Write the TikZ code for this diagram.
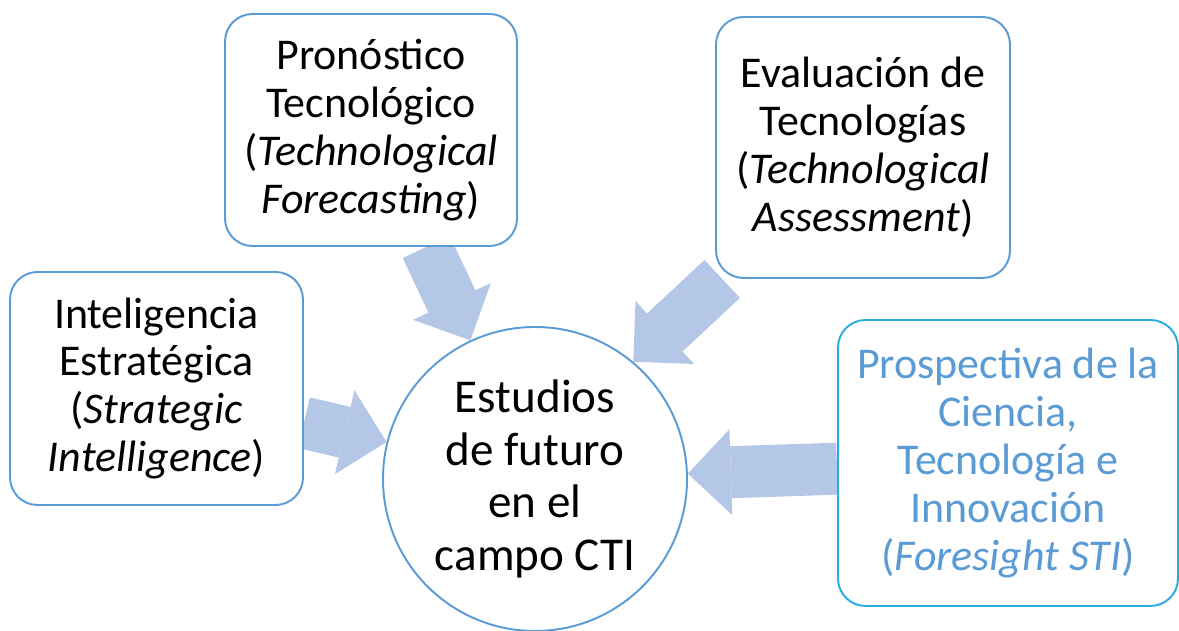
\documentclass[tikz,border=0pt]{standalone}
\usepackage{fontspec}
\setmainfont{Carlito}
\usetikzlibrary{arrows.meta,backgrounds}
\definecolor{azul}{HTML}{5B9BD5}
\definecolor{celeste}{HTML}{29ABE2}
\definecolor{flechaazul}{HTML}{B4C7E7}
\tikzset{
  caja/.style={draw=azul, line width=1.1pt, fill=white, rounded corners=0.55cm,
    align=center, inner sep=0pt, font=\fontsize{25}{27.3}\selectfont},
  circulo/.style={circle, draw=azul, line width=1.1pt, fill=white, inner sep=0pt,
    minimum size=6.08cm, align=center, font=\fontsize{26.8}{30}\selectfont},
  flecha/.style={draw=flechaazul, line width=1.04cm,
    -{Triangle[length=0.86cm,width=1.72cm,line width=0pt]}}
}

\begin{document}
\begin{tikzpicture}
\useasboundingbox (0,0) rectangle (23.58,12.62);
\node[circulo] (cti) at (10.70,3.04) {Estudios\\de futuro\\en el\\campo CTI};
\node[caja, minimum width=5.84cm, minimum height=4.64cm] (pron) at (7.42,10.02)
  {Pronóstico\\Tecnológico\\(\textit{Technological}\\\textit{Forecasting})};
\node[caja, minimum width=5.88cm, minimum height=5.22cm] (eval) at (17.26,9.67)
  {Evaluación de\\Tecnologías\\(\textit{Technological}\\\textit{Assessment})};
\node[caja, minimum width=5.86cm, minimum height=4.66cm] (intel) at (3.13,4.85)
  {Inteligencia\\Estratégica\\(\textit{Strategic}\\\textit{Intelligence})};
\node[caja, draw=celeste, text=azul, minimum width=6.80cm, minimum height=5.72cm] (prosp) at (20.16,3.36)
  {Prospectiva de la\\Ciencia,\\Tecnología e\\Innovación\\(\textit{Foresight STI})};
% flechas detras de las cajas
\begin{pgfonlayer}{background}
\draw[flecha] (pron) -- (cti.115);
\draw[flecha] (eval) -- (cti.50);
\draw[flecha] (intel) -- (cti.166);
\draw[flecha] (prosp) -- (cti.2);
\end{pgfonlayer}
\end{tikzpicture}
\end{document}
